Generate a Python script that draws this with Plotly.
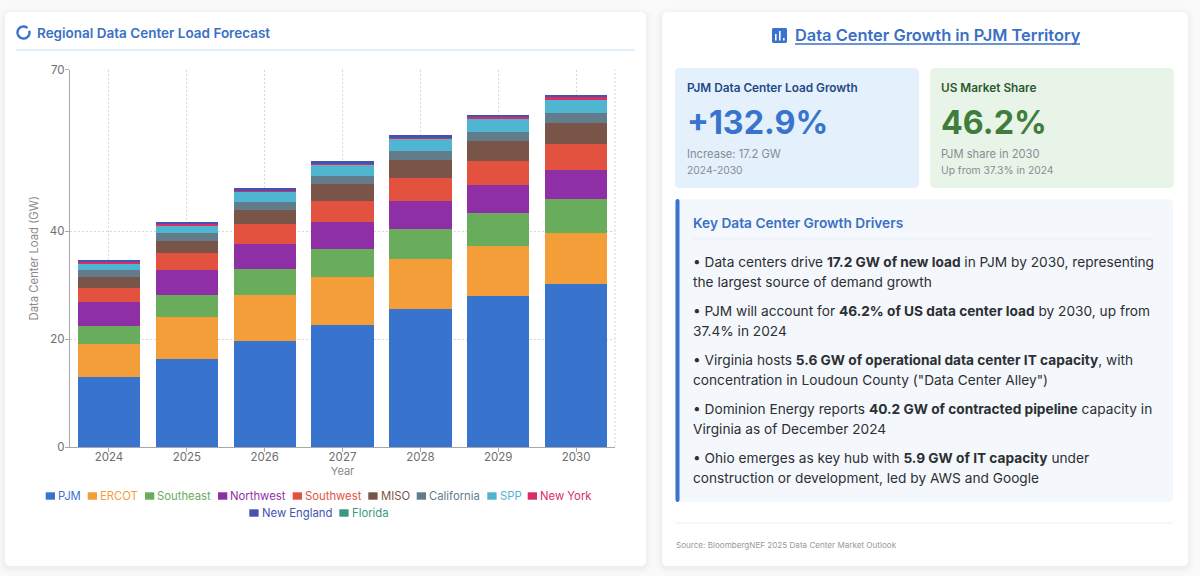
# plot.py - Regional data center load forecast with the PJM summary panel

import numpy as np
import plotly.graph_objects as go

# Datos (GW)
years = ["2024", "2025", "2026", "2027", "2028", "2029", "2030"]
pjm = [13.0, 16.3, 19.6, 22.7, 25.6, 27.95, 30.2]
ercot = [6.1, 7.75, 8.6, 8.8, 9.2, 9.35, 9.5]
southeast = [3.4, 4.05, 4.8, 5.2, 5.6, 6.05, 6.3]
northwest = [4.45, 4.7, 4.7, 5.1, 5.2, 5.25, 5.4]
southwest = [2.6, 3.1, 3.7, 3.9, 4.25, 4.45, 4.8]
miso = [2.05, 2.3, 2.6, 3.0, 3.45, 3.65, 3.85]
california = [1.3, 1.4, 1.45, 1.6, 1.6, 1.7, 1.85]
spp = [1.05, 1.45, 1.8, 2.0, 2.2, 2.45, 2.5]
new_york = [0.4, 0.4, 0.4, 0.4, 0.4, 0.45, 0.45]
new_england = [0.4, 0.35, 0.3, 0.35, 0.35, 0.35, 0.4]
florida = [0, 0, 0, 0, 0, 0, 0]

series_names = ["PJM", "ERCOT", "Southeast", "Northwest", "Southwest", "MISO",
                "California", "SPP", "New York", "New England", "Florida"]
series_values = [pjm, ercot, southeast, northwest, southwest, miso,
                 california, spp, new_york, new_england, florida]
series_colors = ["#3873cd", "#f39e38", "#69ac5c", "#8f2fa5", "#e3523e", "#785548",
                 "#637c8b", "#50b5d0", "#d92d63", "#4452b0", "#3a9786"]
y_ticks = [0, 20, 40, 70]

bullets = [
    ("• Data centers drive <b>17.2 GW of new load</b> in PJM by 2030, representing", 262),
    ("the largest source of demand growth", 282),
    ("• PJM will account for <b>46.2% of US data center load</b> by 2030, up from", 311),
    ("37.4% in 2024", 331),
    ("• Virginia hosts <b>5.6 GW of operational data center IT capacity</b>, with", 360),
    ('concentration in Loudoun County ("Data Center Alley")', 380),
    ("• Dominion Energy reports <b>40.2 GW of contracted pipeline</b> capacity in", 409),
    ("Virginia as of December 2024", 429),
    ("• Ohio emerges as key hub with <b>5.9 GW of IT capacity</b> under", 458),
    ("construction or development, led by AWS and Google", 478),
]

W, H = 1200, 576
FONT = "Inter"
BLUE = "#3873cd"


def px(x):
    return x / W


def py(y):
    return 1 - y / H


# Rectángulo redondeado en píxeles de la página
def round_rect(x0, y0, x1, y1, r, fill, opacity=1.0):
    k = r * 0.45
    p = (f"M{px(x0 + r)},{py(y0)} L{px(x1 - r)},{py(y0)} "
         f"C{px(x1 - k)},{py(y0)} {px(x1)},{py(y0 + k)} {px(x1)},{py(y0 + r)} "
         f"L{px(x1)},{py(y1 - r)} "
         f"C{px(x1)},{py(y1 - k)} {px(x1 - k)},{py(y1)} {px(x1 - r)},{py(y1)} "
         f"L{px(x0 + r)},{py(y1)} "
         f"C{px(x0 + k)},{py(y1)} {px(x0)},{py(y1 - k)} {px(x0)},{py(y1 - r)} "
         f"L{px(x0)},{py(y0 + r)} "
         f"C{px(x0)},{py(y0 + k)} {px(x0 + k)},{py(y0)} {px(x0 + r)},{py(y0)} Z")
    return dict(type="path", xref="paper", yref="paper", path=p, fillcolor=fill,
                opacity=opacity, line=dict(width=0), layer="below")


def h_line(x0, x1, y, color, width=1.0):
    return dict(type="line", xref="paper", yref="paper", x0=px(x0), x1=px(x1),
                y0=py(y), y1=py(y), line=dict(color=color, width=width), layer="below")


def label(x, y, text, size, color, weight=400, anchor="left"):
    return dict(xref="paper", yref="paper", x=px(x), y=py(y), text=text, showarrow=False,
                xanchor=anchor, yanchor="middle", align="left", borderpad=0, borderwidth=0,
                font=dict(family=FONT, size=size, color=color, weight=weight))


def card(x0, y0, x1, y1):
    out = []
    for spread, alpha in [(7, 0.006), (5, 0.008), (3, 0.012), (1.5, 0.016)]:
        out.append(round_rect(x0 - spread, y0 - spread + 2, x1 + spread, y1 + spread + 2,
                              5 + spread, "#000000", alpha))
    out.append(round_rect(x0, y0, x1, y1, 5, "#ffffff"))
    return out


fig = go.Figure()
for name, values, color in zip(series_names, series_values, series_colors):
    fig.add_trace(go.Bar(x=years, y=values, name=name, marker_color=color,
                         marker_line_width=0, showlegend=False))

shapes = []
shapes += card(5, 12, 646, 566)
shapes += card(662, 12, 1188, 566)
shapes.append(h_line(16, 635, 50, "#c5dff3", 1.2))

# Caja azul, caja verde y bloque de puntos clave
shapes.append(round_rect(675, 68, 919, 188, 4, "#e4f0fb"))
shapes.append(round_rect(930, 68, 1174, 188, 4, "#e9f4e8"))
shapes.append(round_rect(675.5, 199, 1173, 502, 4, "#f4f8fc"))
shapes.append(round_rect(675.5, 199, 679.5, 502, 2, BLUE))
shapes.append(h_line(693, 1153, 239, "#e9eef5"))
shapes.append(h_line(675, 1173, 523, "#f0f0f0"))

# Borde derecho punteado del área del gráfico
shapes.append(dict(type="line", xref="paper", yref="paper", x0=px(615), x1=px(615),
                   y0=py(447), y1=py(69.5), layer="below",
                   line=dict(color="#d8d8d8", width=1, dash="2px,2px")))

# Icono de anillo del título izquierdo
angles = np.linspace(-0.3, 5.43, 40)
ring = " ".join(("M" if i == 0 else "L") + f"{px(23.5 + 6 * np.cos(a))},{py(32.5 + 6 * np.sin(a))}"
                for i, a in enumerate(angles))
shapes.append(dict(type="path", xref="paper", yref="paper", path=ring,
                   line=dict(color=BLUE, width=2.4), layer="above"))

# Icono de barras del título derecho
shapes.append(round_rect(772, 28, 787, 43, 1.5, BLUE))
for bx, btop in [(775, 34), (779, 31), (783, 38)]:
    shapes.append(dict(type="rect", xref="paper", yref="paper", x0=px(bx), x1=px(bx + 1.6),
                       y0=py(40.5), y1=py(btop), fillcolor="#ffffff", line=dict(width=0),
                       layer="above"))

annotations = [
    label(37, 33, "Regional Data Center Load Forecast", 13.5, "#3a70c4", 600),
    label(795, 35, "Data Center Growth in PJM Territory", 16.4, "#3a70c4", 600),
    label(687, 88, "PJM Data Center Load Growth", 11.8, "#1f4a86", 600),
    label(687, 122, "+132.9%", 32.3, BLUE, 700),
    label(687, 154, "Increase: 17.2 GW", 11.2, "#868c94"),
    label(687, 170, "2024-2030", 10.3, "#868c94"),
    label(941, 88, "US Market Share", 11.8, "#2a5a2f", 600),
    label(941, 122, "46.2%", 32.3, "#3f7d3d", 700),
    label(941, 154, "PJM share in 2030", 11.2, "#868c94"),
    label(941, 170, "Up from 37.3% in 2024", 10.3, "#868c94"),
    label(693, 223, "Key Data Center Growth Drivers", 13.7, "#3a70c4", 600),
    label(676, 545, "Source: BloombergNEF 2025 Data Center Market Outlook", 8.1, "#999999"),
]
for text, y in bullets:
    annotations.append(label(693, y, text, 13.7, "#2c2f33"))

shapes.append(h_line(795, 1080, 44, "#3a70c4", 1.3))

# Leyenda centrada en dos filas, con el texto del color de cada serie
legend_slots = [(45.7, 496), (87.7, 496), (145, 496), (218, 496), (292.7, 496), (368.3, 496),
                (416.7, 496), (487.3, 496), (527.7, 496), (249.3, 513), (339.3, 513)]
for name, color, (lx, ly) in zip(series_names, series_colors, legend_slots):
    shapes.append(dict(type="rect", xref="paper", yref="paper", x0=px(lx), x1=px(lx + 9.3),
                       y0=py(ly + 3.7), y1=py(ly - 3.7), fillcolor=color, line=dict(width=0)))
    annotations.append(label(lx + 12.4, ly, name, 11.3, color))

fig.update_layout(
    width=W, height=H, autosize=False,
    margin=dict(l=0, r=0, t=0, b=0, pad=0),
    paper_bgcolor="#fafafa", plot_bgcolor="rgba(0,0,0,0)",
    barmode="stack", bargap=0.2,
    font=dict(family=FONT, size=12, color="#6e6e6e"),
    shapes=shapes, annotations=annotations,
    xaxis=dict(domain=[px(70), px(615)], type="category", range=[-0.5, 6.5], automargin=False,
               title=dict(text="Year", standoff=2, font=dict(size=11, color="#8a8a8a")),
               showgrid=True, gridcolor="#d8d8d8", griddash="2px,2px", gridwidth=1,
               showline=True, linecolor="#a8a8a8", linewidth=1,
               ticks="outside", ticklen=4, tickcolor="#a8a8a8", ticklabelstandoff=-5,
               tickfont=dict(size=11.5, color="#6e6e6e")),
    yaxis=dict(domain=[py(447), py(69.5)], range=[0, 70], tickvals=y_ticks, automargin=False,
               title=dict(text="Data Center Load (GW)", standoff=8,
                          font=dict(size=11.3, color="#8a8a8a")),
               showgrid=True, gridcolor="#d8d8d8", griddash="2px,2px", gridwidth=1,
               zeroline=False, showline=True, linecolor="#a8a8a8", linewidth=1.4,
               ticks="outside", ticklen=4, tickcolor="#a8a8a8", ticklabelstandoff=-2,
               tickfont=dict(size=11.5, color="#6e6e6e")),
)

fig.write_html("out.html", config={"displayModeBar": False},
               post_script="document.body.style.margin='0';")
